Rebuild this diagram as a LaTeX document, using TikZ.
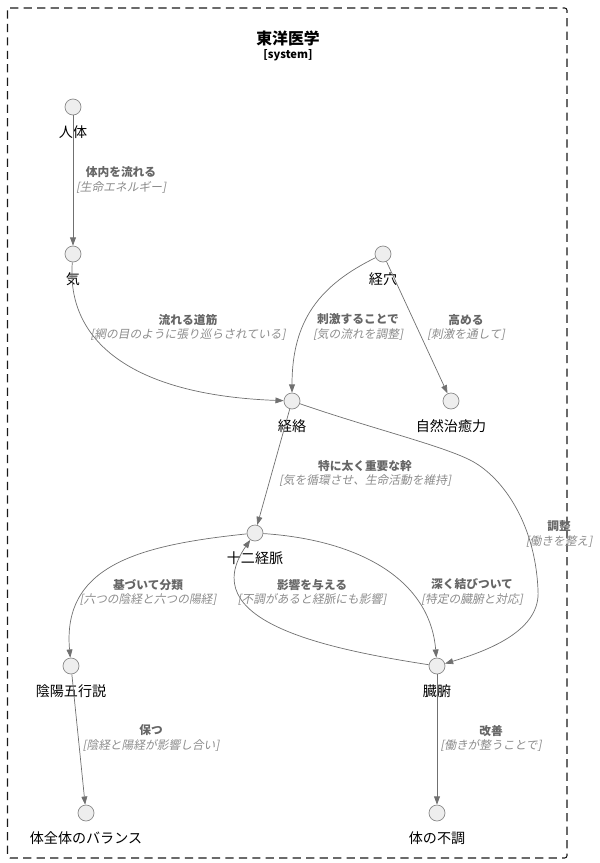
\documentclass[tikz,border=0pt]{standalone}
\usepackage{fontspec}
\setmainfont{Noto Sans CJK JP}[AutoFakeSlant=0.2]
\usetikzlibrary{arrows.meta}
\definecolor{NodeFill}{HTML}{EEEEEE}
\definecolor{NodeLine}{HTML}{8A8A8A}
\definecolor{EdgeGray}{HTML}{707070}
\definecolor{LblDark}{HTML}{666666}
\definecolor{LblLight}{HTML}{8C8C8C}
\definecolor{FrameInk}{HTML}{1A1A1A}
\newcommand{\reltext}[2]{\textcolor{LblDark}{\bfseries #1}\\\textcolor{LblLight}{\itshape #2}}

\begin{document}
\begin{tikzpicture}[x=0.03cm,y=-0.03cm,
  entity/.style={circle,draw=NodeLine,fill=NodeFill,line width=0.6pt,minimum size=0.48cm,inner sep=0pt},
  every label/.style={font=\fontsize{12}{13}\selectfont,inner sep=0pt,text=black,yshift=-8.5pt},
  rel/.style={-{Triangle[length=7pt,width=5pt]},draw=EdgeGray,line width=0.6pt},
  lbl/.style={align=center,font=\fontsize{10}{12}\selectfont,inner sep=0pt},
  boundary/.style={draw=FrameInk,dash pattern=on 7pt off 4.5pt,line width=0.9pt,rounded corners=2pt}
]
\useasboundingbox (0,0) rectangle (600,863);
\draw[boundary] (7.5,8) rectangle (567,858);
\node[font=\fontsize{13.5}{15}\selectfont\bfseries] (title) at (288,38) {東洋医学};
\node[font=\fontsize{9.5}{11}\selectfont\bfseries] (kind) at (288,55) {[system]};

% entities
\node[entity,label=below:人体] (jintai) at (73,107) {};
\node[entity,label=below:気] (ki) at (73,254) {};
\node[entity,label=below:経穴] (keiketsu) at (383,254) {};
\node[entity,label=below:経絡] (keiraku) at (292,401) {};
\node[entity,label=below:自然治癒力] (shizen) at (451,401) {};
\node[entity,label=below:十二経脈] (juuni) at (255,533) {};
\node[entity,label=below:陰陽五行説] (inyou) at (71,666) {};
\node[entity,label=below:臓腑] (zoufu) at (437,666) {};
\node[entity,label=below:体全体のバランス] (balance) at (86,813) {};
\node[entity,label=below:体の不調] (fuchou) at (437,813) {};

% relations
\draw[rel] (jintai) -- (ki);
\draw[rel] (ki) .. controls (66,340) and (130,395) .. (keiraku);
\draw[rel] (keiketsu) .. controls (320,285) and (292,320) .. (keiraku);
\draw[rel] (keiketsu) -- (shizen);
\draw[rel] (keiraku) -- (juuni);
\draw[rel] (keiraku) .. controls (370,428) and (440,445) .. (470,460)
  .. controls (500,475) and (535,520) .. (538,590)
  .. controls (541,630) and (490,650) .. (zoufu);
\draw[rel] (juuni) .. controls (140,545) and (62,565) .. (inyou);
\draw[rel] (juuni) .. controls (360,540) and (430,580) .. (zoufu);
\draw[rel] (zoufu) .. controls (320,648) and (195,620) .. (juuni);
\draw[rel] (inyou) -- (balance);
\draw[rel] (zoufu) -- (fuchou);

% relation labels
\node[lbl] (l-jintai) at (121,180) {\reltext{体内を流れる}{[生命エネルギー]}};
\node[lbl] (l-ki) at (188,327) {\reltext{流れる道筋}{[網の目のように張り巡らされている]}};
\node[lbl] (l-keiketsu) at (358,327) {\reltext{刺激することで}{[気の流れを調整]}};
\node[lbl] (l-shizen) at (466,327) {\reltext{高める}{[刺激を通して]}};
\node[lbl] (l-keiraku) at (365,473) {\reltext{特に太く重要な幹}{[気を循環させ、生命活動を維持]}};
\node[lbl] (l-chousei) at (559,534) {\reltext{調整}{[働きを整え]}};
\node[lbl] (l-inyou) at (148,592) {\reltext{基づいて分類}{[六つの陰経と六つの陽経]}};
\node[lbl] (l-eikyou) at (312,592) {\reltext{影響を与える}{[不調があると経脈にも影響]}};
\node[lbl] (l-zoufu) at (472,592) {\reltext{深く結びついて}{[特定の臓腑と対応]}};
\node[lbl] (l-balance) at (151,738) {\reltext{保つ}{[陰経と陽経が影響し合い]}};
\node[lbl] (l-fuchou) at (491,738) {\reltext{改善}{[働きが整うことで]}};
\end{tikzpicture}
\end{document}
